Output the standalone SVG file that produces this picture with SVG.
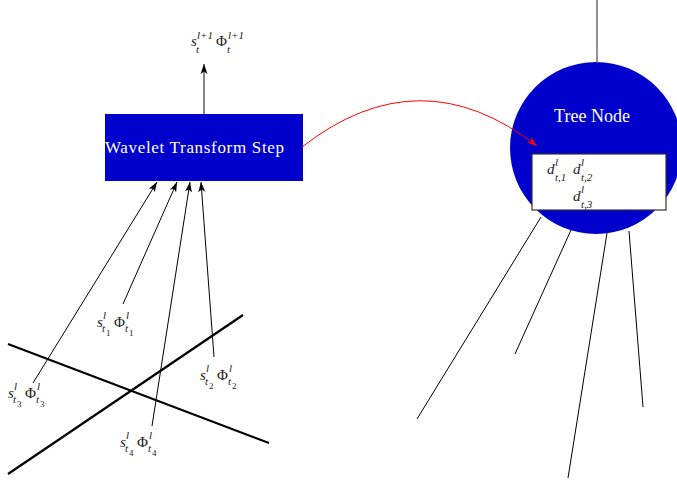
<svg xmlns="http://www.w3.org/2000/svg" width="677" height="482" viewBox="0 0 677 482">
<style>
.m{font-family:"Liberation Serif","DejaVu Serif",serif;font-style:italic;fill:#222;font-size:15px}
.u{font-style:normal}
.sp{font-size:11px}
.dg{font-size:9px;font-style:normal}
.thin{stroke:#000;stroke-width:1;fill:none}
.thick{stroke:#000;stroke-width:2.2;fill:none}
.wt{font-family:"Liberation Serif","DejaVu Serif",serif;fill:#fff}
</style>
<defs>
<marker id="ah" viewBox="0 0 10 10" refX="10" refY="5" markerWidth="10" markerHeight="10" markerUnits="userSpaceOnUse" orient="auto">
<path d="M0,1.5 L10,5 L0,8.5 L2.5,5 Z" fill="#000"/>
</marker>
<marker id="ahr" viewBox="0 0 10 10" refX="10" refY="5" markerWidth="10" markerHeight="10" markerUnits="userSpaceOnUse" orient="auto">
<path d="M0,1.5 L10,5 L0,8.5 L2.5,5 Z" fill="#f00"/>
</marker>
</defs>

<g id="planes">
<line class="thick" x1="8" y1="344" x2="269" y2="443"/>
<line class="thick" x1="8" y1="474" x2="243" y2="315"/>
</g>

<g id="wavelet-step">
<rect x="105" y="114" width="198" height="67" fill="#0000cc"/>
<text class="wt" x="105" y="153" font-size="17" textLength="179">Wavelet Transform Step</text>
</g>

<g id="tree-node">
<circle cx="596" cy="148" r="86" fill="#0000cc"/>
<text class="wt" x="592" y="122" font-size="18" text-anchor="middle">Tree Node</text>
<rect x="532" y="154" width="134" height="56" fill="#fff" stroke="#333" stroke-width="1.2"/>
<text class="m" x="547" y="174">d</text><text class="m sp" x="555" y="166">l</text><text class="m sp" x="555" y="181">t,1</text>
<text class="m" x="573" y="174">d</text><text class="m sp" x="581" y="166">l</text><text class="m sp" x="581" y="181">t,2</text>
<text class="m" x="573" y="201">d</text><text class="m sp" x="581" y="193">l</text><text class="m sp" x="581" y="208">t,3</text>
</g>

<g id="output-label">
<text class="m" x="191" y="46">s</text><text class="m sp" x="197" y="39">l+1</text><text class="m sp" x="196" y="53">t</text>
<text class="m u" x="216" y="46">Φ</text><text class="m sp" x="228" y="39">l+1</text><text class="m sp" x="227" y="53">t</text>
</g>

<g id="label-t1">
<text class="m" x="97" y="327">s</text><text class="m sp" x="103" y="319">l</text><text class="m sp" x="102" y="332">t</text><text class="m dg" x="106" y="336">1</text>
<text class="m u" x="114" y="327">Φ</text><text class="m sp" x="126" y="319">l</text><text class="m sp" x="125" y="332">t</text><text class="m dg" x="129" y="336">1</text>
</g>
<g id="label-t2">
<text class="m" x="200" y="380">s</text><text class="m sp" x="206" y="372">l</text><text class="m sp" x="205" y="385">t</text><text class="m dg" x="209" y="389">2</text>
<text class="m u" x="217" y="380">Φ</text><text class="m sp" x="229" y="372">l</text><text class="m sp" x="228" y="385">t</text><text class="m dg" x="232" y="389">2</text>
</g>
<g id="label-t3">
<text class="m" x="8" y="398">s</text><text class="m sp" x="14" y="390">l</text><text class="m sp" x="13" y="403">t</text><text class="m dg" x="17" y="407">3</text>
<text class="m u" x="25" y="398">Φ</text><text class="m sp" x="37" y="390">l</text><text class="m sp" x="36" y="403">t</text><text class="m dg" x="40" y="407">3</text>
</g>
<g id="label-t4">
<text class="m" x="120" y="447">s</text><text class="m sp" x="126" y="439">l</text><text class="m sp" x="125" y="452">t</text><text class="m dg" x="129" y="456">4</text>
<text class="m u" x="137" y="447">Φ</text><text class="m sp" x="149" y="439">l</text><text class="m sp" x="148" y="452">t</text><text class="m dg" x="152" y="456">4</text>
</g>

<g id="connectors">
<line x1="204" y1="114" x2="204" y2="64" stroke="#444" stroke-width="1.3" marker-end="url(#ah)"/>
<line class="thin" x1="33" y1="383" x2="157" y2="182" marker-end="url(#ah)"/>
<line class="thin" x1="123" y1="304" x2="177" y2="182" marker-end="url(#ah)"/>
<line class="thin" x1="152" y1="426" x2="190" y2="182" marker-end="url(#ah)"/>
<line class="thin" x1="214" y1="357" x2="201" y2="182" marker-end="url(#ah)"/>
<path d="M302,147 Q420,55 537,146" stroke="#f00" stroke-width="1" fill="none" marker-end="url(#ahr)"/>
<line x1="597" y1="0" x2="597" y2="63" stroke="#555" stroke-width="1.3"/>
<line class="thin" x1="541" y1="217" x2="417" y2="419"/>
<line class="thin" x1="571" y1="230" x2="515" y2="354"/>
<line class="thin" x1="607" y1="233" x2="568" y2="478"/>
<line class="thin" x1="629" y1="231" x2="643" y2="407"/>
</g>
</svg>
